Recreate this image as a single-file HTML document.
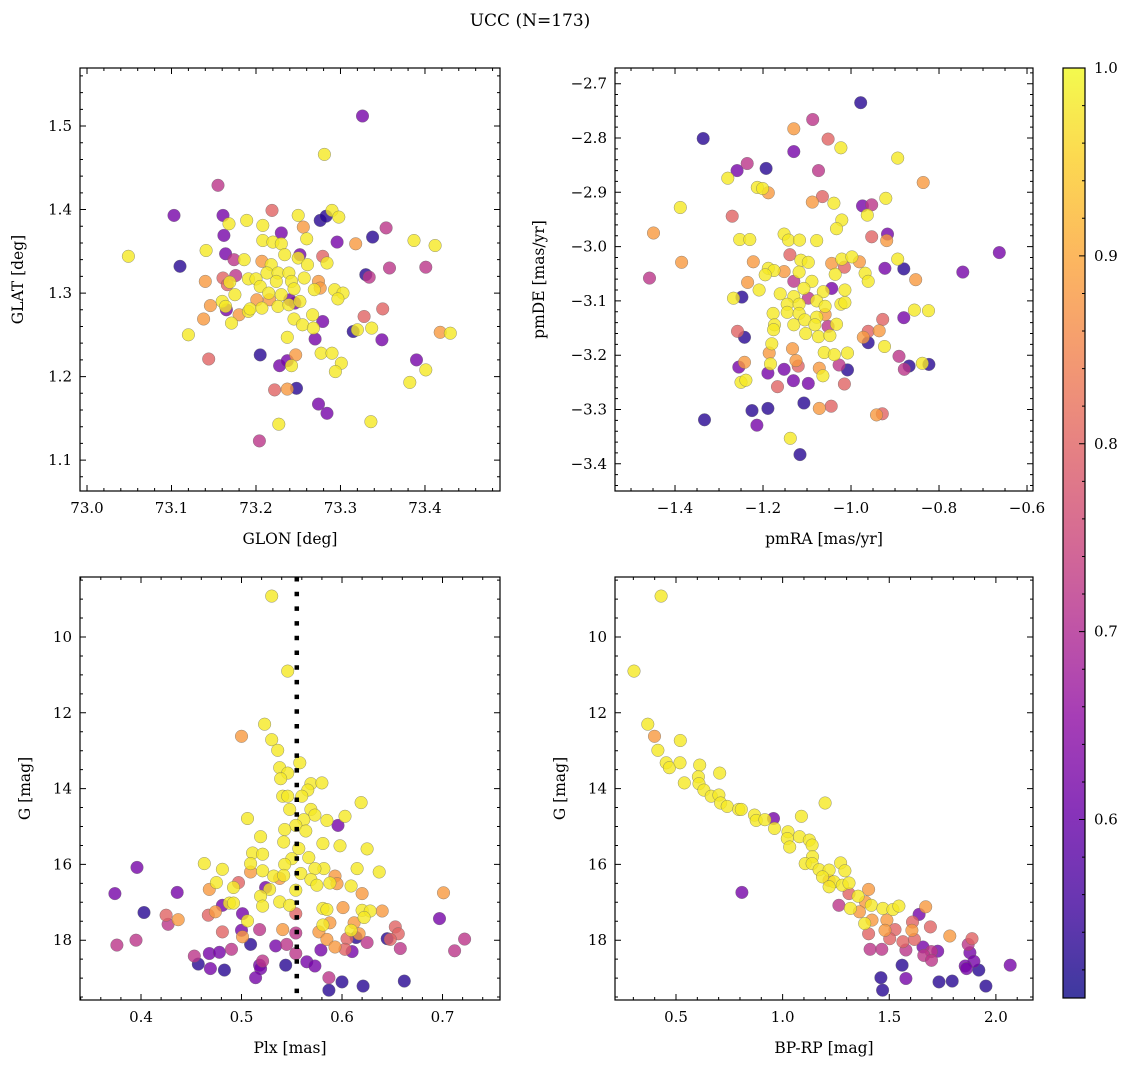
<!DOCTYPE html>
<html><head><meta charset="utf-8"><style>
html,body{margin:0;padding:0;background:#fff}
svg{display:block}
text{font-family:"DejaVu Serif","Liberation Serif",serif;fill:#000}
</style></head><body>
<svg id="fig" width="1136" height="1067" viewBox="0 0 1136 1067" xmlns="http://www.w3.org/2000/svg">
<text x="530" y="26" font-size="17" text-anchor="middle">UCC (N=173)</text>
</svg>
<script>
// ---- Panel 1: GLON vs GLAT ----
const p1x=[73.326,73.281,73.155,73.103,73.161,73.219,73.168,73.189,73.208,73.230,73.250,73.256,73.276,73.283,73.290,73.298,73.162,73.141,73.208,73.220,73.230,73.260,73.296,73.318,73.338,73.354,73.387,73.412,73.049,73.110,73.164,73.174,73.186,73.207,73.234,73.252,73.279,73.284,73.218,73.250,73.261,73.140,73.161,73.176,73.169,73.166,73.191,73.200,73.213,73.226,73.239,73.257,73.224,73.205,73.242,73.274,73.276,73.269,73.330,73.334,73.358,73.401,73.175,73.160,73.165,73.164,73.146,73.138,73.171,73.180,73.191,73.193,73.201,73.207,73.215,73.216,73.226,73.230,73.240,73.246,73.239,73.252,73.245,73.293,73.303,73.297,73.120,73.245,73.255,73.267,73.268,73.279,73.270,73.237,73.315,73.320,73.328,73.337,73.350,73.349,73.418,73.430,73.144,73.205,73.228,73.237,73.242,73.247,73.277,73.290,73.301,73.294,73.390,73.401,73.382,73.222,73.237,73.248,73.274,73.284,73.227,73.336,73.204];
const p1y=[1.512,1.466,1.429,1.393,1.393,1.399,1.383,1.387,1.381,1.372,1.393,1.379,1.387,1.392,1.399,1.391,1.369,1.351,1.363,1.361,1.359,1.365,1.361,1.359,1.367,1.378,1.363,1.357,1.344,1.332,1.347,1.340,1.340,1.338,1.346,1.346,1.344,1.336,1.334,1.342,1.334,1.314,1.318,1.321,1.313,1.310,1.317,1.317,1.324,1.324,1.324,1.318,1.314,1.308,1.314,1.314,1.306,1.304,1.322,1.319,1.330,1.331,1.298,1.290,1.280,1.284,1.285,1.269,1.264,1.274,1.278,1.281,1.292,1.282,1.300,1.292,1.284,1.298,1.292,1.288,1.286,1.290,1.305,1.304,1.300,1.293,1.250,1.269,1.262,1.274,1.258,1.266,1.245,1.247,1.254,1.256,1.272,1.258,1.281,1.244,1.253,1.252,1.221,1.226,1.213,1.219,1.213,1.226,1.228,1.228,1.216,1.206,1.220,1.208,1.193,1.184,1.185,1.186,1.167,1.156,1.143,1.146,1.123];
const p1c=[0.62,0.98,0.72,0.62,0.62,0.80,0.98,0.98,0.98,0.62,0.98,0.88,0.53,0.53,0.98,0.98,0.62,0.98,0.98,0.98,0.98,0.98,0.62,0.88,0.53,0.72,0.98,0.98,0.98,0.53,0.62,0.72,0.98,0.88,0.98,0.62,0.80,0.98,0.98,0.98,0.98,0.88,0.80,0.72,0.98,0.80,0.98,0.98,0.98,0.98,0.98,0.98,0.98,0.98,0.98,0.88,0.88,0.98,0.53,0.72,0.72,0.72,0.98,0.98,0.62,0.98,0.88,0.88,0.98,0.88,0.98,0.98,0.88,0.98,0.98,0.88,0.98,0.98,0.62,0.62,0.98,0.98,0.98,0.98,0.98,0.98,0.98,0.98,0.98,0.98,0.98,0.62,0.62,0.98,0.53,0.98,0.80,0.98,0.80,0.62,0.88,0.98,0.80,0.53,0.62,0.62,0.98,0.88,0.98,0.98,0.98,0.98,0.62,0.98,0.98,0.80,0.88,0.53,0.62,0.62,0.98,0.98,0.72];
const p1xt=[73.0,73.1,73.2,73.3,73.4];
const p1yt=[1.1,1.2,1.3,1.4,1.5];
// ---- Panel 2: pmRA vs pmDE ----
const p2x=[-0.978,-1.336,-1.087,-1.130,-1.052,-1.023,-1.130,-0.894,-1.236,-1.259,-1.193,-1.074,-1.280,-0.836,-1.213,-1.201,-1.188,-1.088,-1.065,-1.039,-0.921,-0.974,-0.953,-0.963,-1.388,-1.270,-1.021,-1.033,-1.449,-1.385,-1.458,-1.253,-1.230,-1.152,-1.142,-1.117,-1.078,-0.953,-0.917,-0.919,-0.663,-0.746,-1.139,-1.114,-1.097,-1.222,-1.188,-1.175,-1.152,-1.195,-1.118,-1.044,-1.021,-1.015,-0.998,-0.981,-1.036,-0.923,-0.894,-0.880,-0.968,-0.961,-0.853,-1.235,-1.130,-1.089,-1.209,-1.107,-1.044,-1.063,-1.014,-1.267,-1.248,-1.161,-1.130,-1.097,-1.078,-1.145,-1.118,-1.059,-1.023,-1.014,-1.177,-1.145,-1.118,-1.078,-1.059,-0.856,-0.824,-0.928,-0.880,-1.174,-1.130,-1.105,-1.082,-1.052,-1.033,-1.176,-1.103,-1.074,-1.048,-1.258,-1.242,-0.961,-0.936,-0.972,-0.961,-1.180,-1.133,-1.186,-1.061,-1.038,-1.008,-0.924,-0.891,-1.183,-1.242,-1.255,-1.125,-1.120,-1.152,-1.072,-1.027,-1.008,-1.064,-0.868,-0.879,-0.838,-0.823,-1.250,-1.239,-1.189,-1.131,-1.167,-1.097,-1.015,-1.225,-1.189,-1.107,-1.072,-1.045,-0.942,-0.929,-1.333,-1.214,-1.138,-1.116];
const p2y=[-2.735,-2.801,-2.766,-2.783,-2.802,-2.818,-2.825,-2.837,-2.847,-2.860,-2.856,-2.860,-2.874,-2.882,-2.891,-2.893,-2.901,-2.918,-2.908,-2.920,-2.911,-2.925,-2.923,-2.942,-2.928,-2.944,-2.951,-2.967,-2.975,-3.029,-3.058,-2.987,-2.987,-2.977,-2.988,-2.988,-2.989,-2.982,-2.977,-2.989,-3.011,-3.047,-3.015,-3.025,-3.029,-3.028,-3.040,-3.044,-3.046,-3.052,-3.047,-3.031,-3.023,-3.038,-3.019,-3.028,-3.051,-3.040,-3.023,-3.041,-3.049,-3.064,-3.061,-3.066,-3.064,-3.064,-3.080,-3.077,-3.077,-3.083,-3.080,-3.095,-3.093,-3.087,-3.092,-3.095,-3.100,-3.106,-3.106,-3.110,-3.106,-3.103,-3.123,-3.121,-3.123,-3.130,-3.125,-3.117,-3.118,-3.134,-3.131,-3.144,-3.144,-3.135,-3.144,-3.147,-3.143,-3.153,-3.160,-3.166,-3.164,-3.156,-3.167,-3.156,-3.155,-3.167,-3.177,-3.179,-3.188,-3.196,-3.195,-3.199,-3.196,-3.184,-3.202,-3.216,-3.213,-3.222,-3.210,-3.220,-3.226,-3.224,-3.218,-3.227,-3.238,-3.220,-3.226,-3.215,-3.217,-3.250,-3.246,-3.233,-3.247,-3.258,-3.252,-3.253,-3.302,-3.298,-3.288,-3.298,-3.294,-3.310,-3.308,-3.319,-3.329,-3.353,-3.383];
const p2c=[0.53,0.53,0.72,0.88,0.80,0.98,0.62,0.98,0.72,0.62,0.53,0.72,0.98,0.88,0.98,0.98,0.88,0.88,0.80,0.98,0.98,0.62,0.72,0.98,0.98,0.80,0.98,0.98,0.88,0.88,0.72,0.98,0.98,0.98,0.98,0.98,0.98,0.80,0.62,0.88,0.62,0.62,0.80,0.98,0.98,0.88,0.98,0.98,0.88,0.98,0.98,0.88,0.98,0.80,0.98,0.88,0.98,0.62,0.98,0.53,0.98,0.98,0.88,0.88,0.72,0.98,0.98,0.98,0.62,0.98,0.98,0.98,0.53,0.98,0.98,0.72,0.98,0.98,0.98,0.98,0.98,0.98,0.98,0.98,0.98,0.98,0.88,0.98,0.98,0.80,0.62,0.98,0.98,0.98,0.98,0.72,0.98,0.98,0.98,0.98,0.98,0.80,0.53,0.80,0.88,0.88,0.53,0.98,0.88,0.88,0.98,0.98,0.98,0.98,0.72,0.98,0.88,0.62,0.88,0.80,0.62,0.88,0.72,0.53,0.98,0.53,0.72,0.98,0.53,0.98,0.98,0.62,0.62,0.80,0.62,0.80,0.53,0.53,0.53,0.88,0.80,0.88,0.80,0.53,0.62,0.98,0.53];
const p2xt=[-1.4,-1.2,-1.0,-0.8,-0.6];
const p2yt=[-3.4,-3.3,-3.2,-3.1,-3.0,-2.9,-2.8,-2.7];
// ---- Panel 3: Plx vs G ----
const p3x=[0.530,0.546,0.523,0.500,0.530,0.536,0.538,0.558,0.546,0.539,0.569,0.580,0.566,0.541,0.546,0.560,0.619,0.548,0.569,0.573,0.506,0.585,0.603,0.596,0.562,0.554,0.564,0.543,0.519,0.542,0.557,0.581,0.598,0.625,0.511,0.521,0.550,0.567,0.509,0.543,0.463,0.582,0.615,0.573,0.637,0.481,0.521,0.509,0.532,0.542,0.538,0.559,0.569,0.593,0.575,0.588,0.595,0.475,0.497,0.492,0.524,0.528,0.554,0.609,0.396,0.374,0.436,0.468,0.620,0.701,0.519,0.481,0.488,0.492,0.521,0.538,0.548,0.554,0.581,0.585,0.601,0.620,0.628,0.640,0.622,0.403,0.425,0.437,0.467,0.474,0.501,0.506,0.697,0.427,0.588,0.612,0.581,0.481,0.500,0.518,0.541,0.554,0.577,0.609,0.617,0.653,0.656,0.501,0.509,0.585,0.605,0.614,0.625,0.645,0.648,0.722,0.376,0.395,0.534,0.545,0.554,0.593,0.603,0.610,0.579,0.658,0.712,0.453,0.468,0.478,0.490,0.457,0.469,0.483,0.518,0.519,0.521,0.544,0.565,0.573,0.514,0.587,0.600,0.621,0.587,0.662];
const p3y=[8.92,10.90,12.30,12.62,12.71,12.99,13.45,13.32,13.59,13.74,13.87,13.85,14.04,14.20,14.20,14.20,14.37,14.55,14.55,14.70,14.79,14.84,14.73,14.97,14.82,14.97,15.12,15.08,15.27,15.41,15.58,15.45,15.51,15.59,15.70,15.73,15.85,15.82,15.98,16.00,15.98,16.11,16.11,16.11,16.20,16.13,16.17,16.20,16.31,16.29,16.37,16.24,16.40,16.31,16.55,16.49,16.51,16.48,16.48,16.61,16.61,16.66,16.68,16.57,16.08,16.77,16.74,16.66,16.77,16.75,16.84,17.08,17.02,17.02,17.10,16.99,17.08,17.30,17.16,17.19,17.14,17.21,17.23,17.23,17.40,17.27,17.34,17.46,17.34,17.25,17.30,17.49,17.43,17.58,17.54,17.54,17.60,17.78,17.74,17.72,17.72,17.81,17.78,17.74,17.83,17.65,17.83,17.91,18.11,17.98,17.96,17.93,18.06,17.96,17.98,17.97,18.13,18.00,18.15,18.11,18.35,18.18,18.24,18.30,18.26,18.22,18.28,18.42,18.35,18.32,18.24,18.63,18.75,18.79,18.66,18.75,18.55,18.66,18.57,18.68,18.99,18.99,19.10,19.21,19.32,19.08];
const p3c=[0.98,0.98,0.98,0.88,0.98,0.98,0.98,0.98,0.98,0.98,0.98,0.98,0.98,0.98,0.98,0.98,0.98,0.98,0.98,0.98,0.98,0.98,0.98,0.62,0.98,0.98,0.98,0.98,0.98,0.98,0.98,0.98,0.98,0.98,0.98,0.98,0.98,0.98,0.98,0.98,0.98,0.98,0.98,0.98,0.98,0.98,0.98,0.88,0.98,0.98,0.88,0.98,0.98,0.88,0.98,0.98,0.88,0.98,0.80,0.98,0.62,0.98,0.98,0.98,0.62,0.62,0.62,0.88,0.88,0.88,0.98,0.62,0.98,0.98,0.98,0.98,0.98,0.80,0.98,0.98,0.88,0.98,0.98,0.88,0.98,0.53,0.80,0.88,0.80,0.88,0.62,0.98,0.62,0.72,0.88,0.88,0.98,0.80,0.62,0.72,0.88,0.72,0.88,0.98,0.88,0.80,0.80,0.88,0.53,0.88,0.80,0.53,0.72,0.53,0.80,0.72,0.72,0.72,0.62,0.72,0.72,0.88,0.80,0.62,0.62,0.72,0.72,0.72,0.62,0.62,0.72,0.53,0.62,0.53,0.62,0.62,0.72,0.53,0.62,0.62,0.62,0.72,0.53,0.53,0.53,0.53];
const p3xt=[0.4,0.5,0.6,0.7];
const p3yt=[10,12,14,16,18];
const plxRef=[0.555];
// ---- Panel 4: BP-RP vs G ----
const p4x=[0.430,0.303,0.368,0.399,0.520,0.415,0.454,0.469,0.519,0.611,0.705,0.539,0.605,0.608,0.631,0.665,0.701,0.709,0.740,0.794,0.806,0.868,0.876,0.917,0.957,0.962,1.088,1.199,1.025,1.079,1.022,1.033,1.125,1.138,1.140,1.106,1.138,1.171,1.218,1.272,1.292,1.187,1.218,1.241,1.280,1.311,1.218,1.403,1.311,1.354,1.264,1.388,1.318,1.360,1.416,1.470,1.517,1.545,1.671,0.809,1.419,1.385,1.489,1.480,1.527,1.609,1.606,1.693,1.640,1.403,1.502,1.564,1.618,1.784,1.888,1.410,1.465,1.578,1.658,1.697,1.727,1.662,1.698,1.870,1.878,1.897,1.856,1.862,1.920,2.067,1.560,1.578,1.461,1.469,1.733,1.795,1.953];
const p4y=[8.92,10.90,12.30,12.62,12.73,12.99,13.32,13.45,13.32,13.38,13.59,13.85,13.69,13.87,14.04,14.20,14.17,14.38,14.47,14.55,14.55,14.70,14.84,14.82,14.79,15.05,14.73,14.38,15.14,15.27,15.32,15.54,15.36,15.49,15.80,15.98,15.98,16.14,16.15,15.96,16.17,16.33,16.42,16.46,16.55,16.49,16.59,16.66,16.77,16.84,17.08,16.99,17.16,17.25,17.08,17.16,17.19,17.10,17.12,16.74,17.47,17.56,17.47,17.74,17.72,17.52,17.74,17.65,17.32,17.83,17.96,18.04,17.98,17.89,17.96,18.24,18.24,18.26,18.18,18.30,18.29,18.40,18.53,18.11,18.33,18.56,18.68,18.75,18.79,18.66,18.66,19.01,18.99,19.32,19.10,19.08,19.21];
const p4c=[0.98,0.98,0.98,0.88,0.98,0.98,0.98,0.98,0.98,0.98,0.98,0.98,0.98,0.98,0.98,0.98,0.98,0.98,0.98,0.98,0.98,0.98,0.98,0.98,0.62,0.98,0.98,0.98,0.98,0.98,0.98,0.98,0.98,0.98,0.98,0.98,0.98,0.98,0.98,0.98,0.98,0.98,0.88,0.98,0.98,0.98,0.98,0.88,0.80,0.98,0.72,0.88,0.98,0.88,0.98,0.98,0.98,0.98,0.88,0.62,0.88,0.98,0.88,0.88,0.80,0.80,0.88,0.80,0.62,0.80,0.80,0.80,0.80,0.88,0.80,0.72,0.72,0.72,0.62,0.72,0.62,0.72,0.72,0.72,0.62,0.62,0.62,0.62,0.53,0.62,0.53,0.62,0.53,0.53,0.53,0.53,0.53];
const p4xt=[0.5,1.0,1.5,2.0];
const p4yt=[10,12,14,16,18];
// ---- Colorbar ----
const cbTicks=[0.6,0.7,0.8,0.9,1.0];
const cbRange=[0.505,1.0];

const NS="http://www.w3.org/2000/svg";
const svg=document.getElementById('fig');
function mk(tag,attrs,parent){const e=document.createElementNS(NS,tag);for(const k in attrs)e.setAttribute(k,attrs[k]);(parent||svg).appendChild(e);return e;}
const plasma=[[13,8,135],[65,4,157],[106,0,168],[143,13,164],[177,42,144],[204,71,120],[225,100,98],[242,132,75],[252,166,54],[252,206,37],[240,249,33]];
function cmap(v){let t=(v-cbRange[0])/(cbRange[1]-cbRange[0]);t=Math.max(0,Math.min(1,t))*10;const i=Math.min(9,Math.floor(t)),f=t-i;const a=plasma[i],b=plasma[i+1];return 'rgb('+a.map((c,k)=>Math.round(c+(b[k]-c)*f)).join(',')+')';}
function fmt(v,d){return (v<0?'\u2212':'')+Math.abs(v).toFixed(d);}

function panel(o){
  const g=mk('g',{});
  
  
  const X=v=>o.x0+(v-o.xmin)/(o.xmax-o.xmin)*(o.x1-o.x0);
  const Y=o.yinv? v=>o.y0+(v-o.ymin)/(o.ymax-o.ymin)*(o.y1-o.y0) : v=>o.y1-(v-o.ymin)/(o.ymax-o.ymin)*(o.y1-o.y0);
  const idx=[];const n=Math.min(o.xs.length,o.ys.length,o.cs.length);for(let i=0;i<n;i++)idx.push(i);
  idx.sort((a,b)=>o.cs[a]-o.cs[b]);
  const pg=mk('g',{},g);
  
  
  for(const i of idx){
    const c=mk('circle',{cx:X(o.xs[i]).toFixed(1),cy:Y(o.ys[i]).toFixed(1),r:6.3,fill:cmap(o.cs[i]),'fill-opacity':0.8,stroke:'#666','stroke-width':0.5,'stroke-opacity':0.7},pg);
    
    
  }
  if(o.vline){const l=mk('line',{x1:X(o.vline),x2:X(o.vline),y1:o.y0,y2:o.y1,stroke:'#000','stroke-width':4.5,'stroke-dasharray':'4.5 10.2'},g);
    
    }
  const fr=mk('rect',{x:o.x0,y:o.y0,width:o.x1-o.x0,height:o.y1-o.y0,fill:'none',stroke:'#000','stroke-width':1.2},g);
  
  
  let d='';
  for(let v=Math.ceil(o.xmin/o.xminor)*o.xminor;v<=o.xmax;v+=o.xminor){const x=X(v);d+=`M${x},${o.y1}v-3M${x},${o.y0}v3`;}
  for(let v=Math.ceil(o.ymin/o.yminor)*o.yminor;v<=o.ymax;v+=o.yminor){const y=Y(v);d+=`M${o.x0},${y}h3M${o.x1},${y}h-3`;}
  for(const v of o.xt){const x=X(v);d+=`M${x},${o.y1}v-6M${x},${o.y0}v6`;}
  for(const v of o.yt){const y=Y(v);d+=`M${o.x0},${y}h6M${o.x1},${y}h-6`;}
  const tk=mk('path',{d:d,stroke:'#000','stroke-width':1,fill:'none'},g);
  
  
  for(const v of o.xt){const t=mk('text',{x:X(v),y:o.y1+22,'font-size':15,'text-anchor':'middle'},g);t.textContent=fmt(v,o.xd);
    
    }
  for(const v of o.yt){const t=mk('text',{x:o.x0-8,y:Y(v)+5,'font-size':15,'text-anchor':'end'},g);t.textContent=fmt(v,o.yd);
    
    }
  const xl=mk('text',{x:(o.x0+o.x1)/2,y:o.y1+53,'font-size':15.5,'text-anchor':'middle'},g);xl.textContent=o.xlabel;
  
  
  const cy=(o.y0+o.y1)/2;
  const yl=mk('text',{x:o.ylx,y:cy,'font-size':15.5,'text-anchor':'middle',transform:`rotate(-90 ${o.ylx} ${cy})`},g);yl.textContent=o.ylabel;
  
  
}
panel({name:'glon-glat-panel',x0:80,x1:500,y0:68,y1:491,xmin:72.9917,xmax:73.4888,ymin:1.063,ymax:1.5695,xs:p1x,ys:p1y,cs:p1c,xt:p1xt,yt:p1yt,xd:1,yd:1,xminor:0.02,yminor:0.02,xlabel:'GLON [deg]',ylabel:'GLAT [deg]',ylx:23});
panel({name:'pm-panel',x0:615,x1:1033,y0:68,y1:491,xmin:-1.5364,xmax:-0.5864,ymin:-3.4501,ymax:-2.6711,xs:p2x,ys:p2y,cs:p2c,xt:p2xt,yt:p2yt,xd:1,yd:1,xminor:0.05,yminor:0.02,xlabel:'pmRA [mas/yr]',ylabel:'pmDE [mas/yr]',ylx:544});
panel({name:'plx-g-panel',x0:80,x1:500,y0:577,y1:1000,xmin:0.3393,xmax:0.7572,ymin:8.417,ymax:19.578,yinv:true,xs:p3x,ys:p3y,cs:p3c,xt:p3xt,yt:p3yt,xd:1,yd:0,xminor:0.02,yminor:0.5,xlabel:'Plx [mas]',ylabel:'G [mag]',ylx:30,vline:plxRef[0]});
panel({name:'cmd-panel',x0:615,x1:1033,y0:577,y1:1000,xmin:0.214,xmax:2.174,ymin:8.417,ymax:19.578,yinv:true,xs:p4x,ys:p4y,cs:p4c,xt:p4xt,yt:p4yt,xd:1,yd:0,xminor:0.1,yminor:0.5,xlabel:'BP-RP [mag]',ylabel:'G [mag]',ylx:565});

// colorbar
const cb=mk('g',{});


const defs=mk('defs',{},cb);
const lg=mk('linearGradient',{id:'cbg',x1:0,y1:1,x2:0,y2:0},defs);
for(let k=0;k<=20;k++){const v=cbRange[0]+(cbRange[1]-cbRange[0])*k/20;mk('stop',{offset:k/20,'stop-color':cmap(v),'stop-opacity':0.8},lg);}
const cx0=1063,cx1=1085,cy0=68,cy1=998;
const CY=v=>cy1-(v-cbRange[0])/(cbRange[1]-cbRange[0])*(cy1-cy0);
mk('rect',{x:cx0,y:cy0,width:cx1-cx0,height:cy1-cy0,fill:'url(#cbg)',stroke:'#000','stroke-width':1.2},cb);
let cd='';
for(let v=0.52;v<=1.0001;v+=0.02){cd+=`M${cx1},${CY(v)}h-3`;}
for(const v of cbTicks){cd+=`M${cx1},${CY(v)}h-6`;}
mk('path',{d:cd,stroke:'#000','stroke-width':1},cb);
for(const v of cbTicks){const t=mk('text',{x:cx1+9,y:CY(v)+5,'font-size':15},cb);t.textContent=v.toFixed(1);
  
  }
</script>
</body></html>
